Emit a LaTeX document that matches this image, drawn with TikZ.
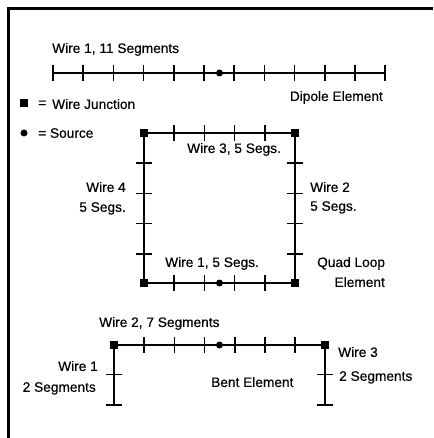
\documentclass[tikz,border=0pt]{standalone}
\usepackage{fontspec}
\setmainfont{Liberation Sans}[FakeBold=0.4]
\tikzset{
  junction/.style={fill=black, minimum size=7.5pt, inner sep=0pt},
  source/.style={circle, fill=black, minimum size=7pt, inner sep=0pt},
  endpoint/.style={inner sep=0pt, minimum size=0pt},
  wire/.style={line width=1.6pt},
  tick/.style={line width=1.6pt},
  txt/.style={font=\fontsize{13.7}{16}\selectfont, inner sep=0pt, text depth=0pt},
}
\begin{document}
\begin{tikzpicture}[x=1pt, y=-1pt]
      \def\dx{30.2};
      \def\dt{8};
      \useasboundingbox (0,0) rectangle (433,438);
      %
      \draw[line width=3pt] (8.5,438) -- (8.5,9) -- (433,9);   % frame
      %
      % dipole
      \node[endpoint] (dipoleL) at (53,73) {};
      \node[endpoint] (dipoleR) at (385,73) {};
      \draw[wire] (dipoleL) -- (dipoleR);
      \foreach \i in {0,...,11} {
        \draw[tick] (53+\i*\dx,73-\dt) -- (53+\i*\dx,73+\dt);
      }
      \node[source] (dipoleS) at (219.5,73) {};
      \node[txt, anchor=west] (dipoleT) at (52,48) {Wire 1, 11 Segments};
      \node[txt, anchor=east] (dipoleE) at (383,96) {Dipole Element};
      %
      % legend
      \node[junction] (legendJ) at (24,103) {};
      \node[txt, anchor=west] (legendJT) at (38,104) {=};
      \node[txt, anchor=west] (legendJW) at (52,104) {Wire Junction};
      \node[source] (legendS) at (24,133) {};
      \node[txt, anchor=west] (legendST) at (38,133) {= Source};
      %
      % quad loop
      \node[junction] (quadA) at (144,133) {};
      \node[junction] (quadB) at (295,133) {};
      \node[junction] (quadC) at (295,283) {};
      \node[junction] (quadD) at (144,283) {};
      \draw[wire] (quadA) -- (quadB) -- (quadC) -- (quadD) -- (quadA);
      \foreach \i in {1,...,4} {
        \draw[tick] (144+\i*\dx,133-\dt) -- (144+\i*\dx,133+\dt);   % top
        \draw[tick] (144+\i*\dx,283-\dt) -- (144+\i*\dx,283+\dt);   % bottom
        \draw[tick] (144-\dt,133+\i*\dx) -- (144+\dt,133+\i*\dx);   % left
        \draw[tick] (295-\dt,133+\i*\dx) -- (295+\dt,133+\i*\dx);   % right
      }
      \node[source] (quadS) at (219.5,283) {};
      \node[txt, anchor=west] (quadW3) at (187,148) {Wire 3, 5 Segs.};
      \node[txt, anchor=east] (quadW4) at (126,187) {Wire 4};
      \node[txt, anchor=east] (quadS4) at (126,207) {5 Segs.};
      \node[txt, anchor=west] (quadW2) at (310,187) {Wire 2};
      \node[txt, anchor=west] (quadS2) at (310,206) {5 Segs.};
      \node[txt, anchor=west] (quadW1) at (165,262) {Wire 1, 5 Segs.};
      \node[txt, anchor=west] (quadE1) at (317,262) {Quad Loop};
      \node[txt, anchor=east] (quadE2) at (385,282) {Element};
      %
      % bent
      \node[junction] (bentA) at (114,345) {};
      \node[junction] (bentB) at (325,345) {};
      \node[endpoint] (bentC) at (114,405) {};
      \node[endpoint] (bentD) at (325,405) {};
      \draw[wire] (bentC) -- (bentA) -- (bentB) -- (bentD);
      \foreach \i in {1,...,6} {
        \draw[tick] (114+\i*\dx,345-\dt) -- (114+\i*\dx,345+\dt);
      }
      \foreach \xa in {114,325} {
        \draw[tick] (\xa-\dt,374.5) -- (\xa+\dt,374.5);
        \draw[tick] (\xa-\dt,405) -- (\xa+\dt,405);
      }
      \node[source] (bentS) at (219.5,345) {};
      \node[txt, anchor=west] (bentW2) at (99,322) {Wire 2, 7 Segments};
      \node[txt, anchor=east] (bentW1) at (98,366) {Wire 1};
      \node[txt, anchor=east] (bentS1) at (96,387) {2 Segments};
      \node[txt, anchor=west] (bentW3) at (338,352) {Wire 3};
      \node[txt, anchor=west] (bentS3) at (339,376) {2 Segments};
      \node[txt, anchor=west] (bentE) at (211,382) {Bent Element};
      %
    \end{tikzpicture}
\end{document}
